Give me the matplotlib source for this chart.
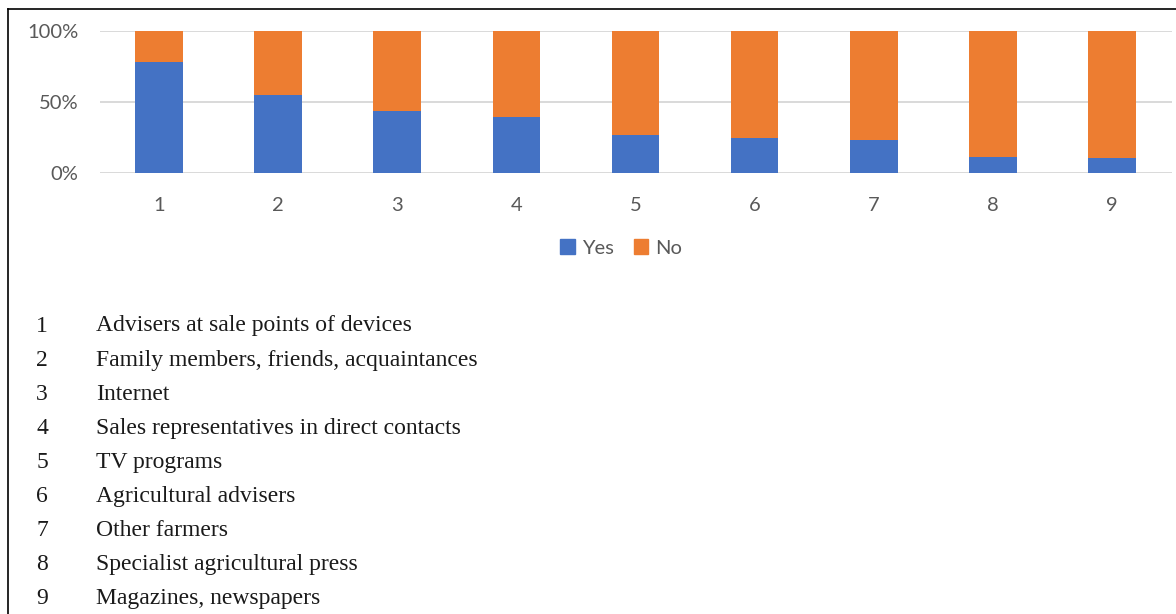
import matplotlib
matplotlib.use("Agg")
import matplotlib.pyplot as plt
from matplotlib.lines import Line2D
from matplotlib.patches import Patch
from matplotlib.ticker import FuncFormatter

# Share of respondents using each information source
categories = ["1", "2", "3", "4", "5", "6", "7", "8", "9"]
yes_pct = [78.5, 54.8, 43.8, 39.3, 26.6, 24.5, 23.5, 11.1, 10.8]
no_pct = [100 - v for v in yes_pct]
sources = [
    "Advisers at sale points of devices",
    "Family members, friends, acquaintances",
    "Internet",
    "Sales representatives in direct contacts",
    "TV programs",
    "Agricultural advisers",
    "Other farmers",
    "Specialist agricultural press",
    "Magazines, newspapers",
]

BLUE = "#4472C4"
ORANGE = "#ED7D31"
GREY_TXT = "#595959"

W, H = 1176, 614
fig = plt.figure(figsize=(W / 100, H / 100), dpi=100)


def fx(px):
    return px / W


def fy(py):
    return 1 - py / H


ax = fig.add_axes([fx(99.5), fy(173), fx(1171.6) - fx(99.5), fy(31.3) - fy(173)])
x = list(range(len(categories)))
ax.bar(x, yes_pct, width=0.4, color=BLUE, zorder=3, label="Yes")
ax.bar(x, no_pct, width=0.4, bottom=yes_pct, color=ORANGE, zorder=3, label="No")

ax.set_xlim(-0.5, len(categories) - 0.5)
ax.set_ylim(0, 100)
ax.set_yticks([0, 50, 100])
ax.yaxis.set_major_formatter(FuncFormatter(lambda v, p: f"{v:.0f}%"))
ax.set_xticks(x)
ax.set_xticklabels(categories)
ax.grid(axis="y", color="#d9d9d9", linewidth=1.4, zorder=0)
for s in ax.spines.values():
    s.set_visible(False)
ax.tick_params(axis="both", length=0, colors=GREY_TXT, labelsize=14.5)
ax.tick_params(axis="y", pad=15)
ax.tick_params(axis="x", pad=17)
for lab in ax.get_xticklabels() + ax.get_yticklabels():
    lab.set_fontfamily("Lato")

handles = [Patch(color=BLUE, label="Yes"), Patch(color=ORANGE, label="No")]
fig.legend(handles=handles, loc="center", bbox_to_anchor=(fx(621), fy(248)),
           ncol=2, frameon=False, handlelength=0.7, handleheight=0.7,
           handletextpad=0.35, columnspacing=1.0,
           prop={"family": "Lato", "size": 14.5}, labelcolor=GREY_TXT)

# Key to the numbered categories
for i, name in enumerate(sources):
    py = 326 + i * 34.1
    fig.text(fx(42), fy(py), str(i + 1), ha="center", va="center",
             family="Liberation Serif", fontsize=17, color="#1a1a1a")
    fig.text(fx(96), fy(py), name, ha="left", va="center",
             family="Liberation Serif", fontsize=17, color="#1a1a1a")

# Frame lines along the top and left edges
fig.add_artist(Line2D([fx(7.5), 1], [fy(8.5), fy(8.5)], color="black", linewidth=1.2))
fig.add_artist(Line2D([fx(7.5), fx(7.5)], [fy(8.5), 0], color="black", linewidth=1.2))

fig.savefig("out.png", dpi=100)
